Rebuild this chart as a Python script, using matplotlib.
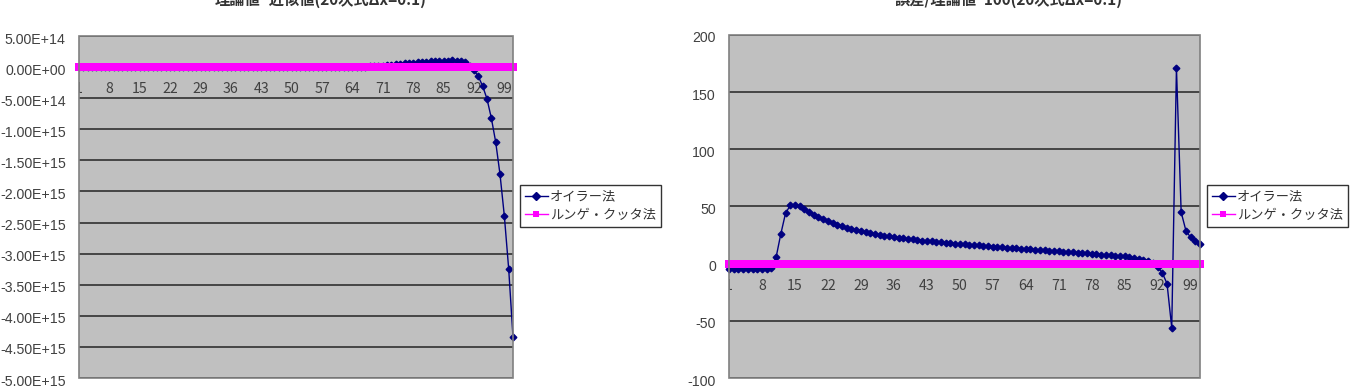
import matplotlib
matplotlib.use('Agg')
import matplotlib.pyplot as plt
import matplotlib.transforms as mtransforms
from matplotlib.patches import Rectangle
from matplotlib.lines import Line2D

plt.rcParams['font.family'] = ['Noto Sans CJK JP', 'DejaVu Sans']

# データ (x = 1..101)
steps = list(range(1, 102))
tick_steps = [1, 8, 15, 22, 29, 36, 43, 50, 57, 64, 71, 78, 85, 92, 99]

# 理論値 - 近似値
diff_euler = [
    0,
    0, 0, 0, 0, 0, 0, 0, 0, 0, 0,
    0, 0, 0, 0, 0, 0, 0, 0, 0, 0,
    0, 0, 0, 0, 0, 0, 0, 0, 0, 0,
    0, 0, 0, 0, 0, 0, 0, 0, 0, 0,
    0, 0, 0, 0, 0, 0, 0, 0, 0, 0,
    1e10, 2e10, 4e10, 7e10, 1.2e11, 2e11, 3e11, 4e11, 5e11, 8e11,
    1.2e12, 1.8e12, 2.7e12, 4e12, 5.5e12, 7.5e12, 1e13, 1.25e13, 1.5e13, 2.2e13,
    3e13, 3.8e13, 4.5e13, 5.2e13, 5.8e13, 6.4e13, 7e13, 7.5e13, 8e13, 8.5e13,
    9e13, 9.4e13, 9.8e13, 1.02e14, 1.05e14, 1.06e14, 1.05e14, 9.8e13, 7.5e13, 2.5e13,
    -5.2e13, -1.49e14, -3.04e14, -5.1e14, -8.17e14, -1.2e15, -1.72e15, -2.39e15, -3.24e15, -4.34e15,
]
diff_rk = [0.0] * 101

# 誤差/理論値*100
rel_euler = [
    -5.0, -4.9, -4.9, -4.8, -4.8, -4.7, -4.6, -4.5, -4.3, -3.8,
    5.6, 26, 44, 51, 51.5, 50, 47.5, 45, 43, 41,
    39, 37, 35.5, 34, 32.7, 31.5, 30.4, 29.4, 28.5, 27.6,
    26.8, 26, 25.3, 24.6, 24, 23.4, 22.8, 22.2, 21.7, 21.2,
    20.7, 20.2, 19.8, 19.4, 19, 18.6, 18.3, 17.9, 17.6, 17.3,
    16.9, 16.6, 16.3, 16, 15.6, 15.3, 15, 14.7, 14.4, 14.1,
    13.8, 13.5, 13.2, 12.9, 12.6, 12.3, 12, 11.6, 11.3, 11,
    10.7, 10.4, 10.1, 9.8, 9.5, 9.2, 8.9, 8.6, 8.3, 8.0,
    7.7, 7.4, 7.0, 6.7, 6.3, 5.8, 5.2, 4.5, 3.5, 2.2,
    0.5, -3, -8, -17.5, -56, 171, 45, 29, 23, 20,
    17,
]
rel_rk = [0.0] * 101

titles = ['理論値−近似値(20次式Δx=0.1)', '誤差/理論値*100(20次式Δx=0.1)']
series_names = ['オイラー法', 'ルンゲ・クッタ法']

W, H = 1350, 387
fig = plt.figure(figsize=(W / 100, H / 100), dpi=100)
num_font = ['Liberation Sans', 'DejaVu Sans']


def px_box(x0, y0, x1, y1):
    return [x0 / W, 1 - y1 / H, (x1 - x0) / W, (y1 - y0) / H]


def draw_panel(rect, euler, rk, ylim, yticks, yfmt, title, title_x, legend_xy):
    ax = fig.add_axes(rect)
    ax.set_facecolor('#C0C0C0')
    ax.plot(steps, euler, color='#000080', lw=1, marker='D', ms=3.4,
            mec='#000080', mfc='#000080', zorder=3, clip_on=False)
    ax.plot(steps, rk, color='#FF00FF', lw=1, marker='s', ms=5.4,
            mew=0, zorder=4, clip_on=False)
    ax.set_xlim(1, 101)
    ax.set_ylim(*ylim)
    ax.set_yticks(yticks)
    ax.set_yticklabels([yfmt(v) for v in yticks], family=num_font)
    ax.set_xticks(tick_steps)
    ax.set_xticklabels([str(t) for t in tick_steps], family=num_font)
    ax.yaxis.grid(True, color='#303030', lw=1.2)
    ax.set_axisbelow(True)
    for s in ['top', 'left', 'right']:
        ax.spines[s].set_visible(False)
    ax.spines['bottom'].set_position(('data', 0))
    ax.spines['bottom'].set_color('#303030')
    ax.add_patch(Rectangle((0, 0), 1, 1, transform=ax.transAxes, fill=False,
                           edgecolor='#808080', lw=1.2, clip_on=False, zorder=5))
    ax.tick_params(axis='x', length=0, pad=11, labelsize=10.2, labelcolor='#404040')
    ax.tick_params(axis='y', length=0, pad=9.5, labelsize=10.2, labelcolor='#404040')

    shift = mtransforms.ScaledTranslation(0, -2 / 100, fig.dpi_scale_trans)
    for lbl in ax.get_yticklabels():
        lbl.set_transform(lbl.get_transform() + shift)
    for lbl in ax.get_xticklabels():
        lbl.set_clip_box(ax.bbox)
        lbl.set_clip_on(True)

    fig.text(title_x / W, 1 + 0.5 / H, title, ha='center', va='center',
             fontsize=11, fontweight='bold', color='#333333')

    handles = [
        Line2D([], [], color='#000080', lw=1, marker='D', ms=3.6),
        Line2D([], [], color='#FF00FF', lw=1, marker='s', ms=5, mew=0),
    ]
    leg = ax.legend(handles, series_names, loc='upper left',
                    bbox_to_anchor=(legend_xy[0] / W, 1 - legend_xy[1] / H),
                    bbox_transform=fig.transFigure, fontsize=9.5, frameon=True,
                    fancybox=False, borderpad=0.4, handlelength=1.7,
                    handletextpad=0.15, labelspacing=0.4, borderaxespad=0)
    leg.get_frame().set_edgecolor('#000000')
    leg.get_frame().set_linewidth(1.0)
    for t in leg.get_texts():
        t.set_color('#333333')
    return ax


draw_panel(px_box(79, 36, 513, 378), diff_euler, diff_rk,
           (-5e15, 5e14), [5e14 - 5e14 * i for i in range(12)],
           lambda v: f'{v:.2E}', titles[0], 321, (520, 185))

draw_panel(px_box(729, 35, 1200, 378), rel_euler, rel_rk,
           (-100, 200), [200, 150, 100, 50, 0, -50, -100],
           lambda v: f'{v:g}', titles[1], 1009, (1207, 185))

fig.savefig('out.png', dpi=100)
